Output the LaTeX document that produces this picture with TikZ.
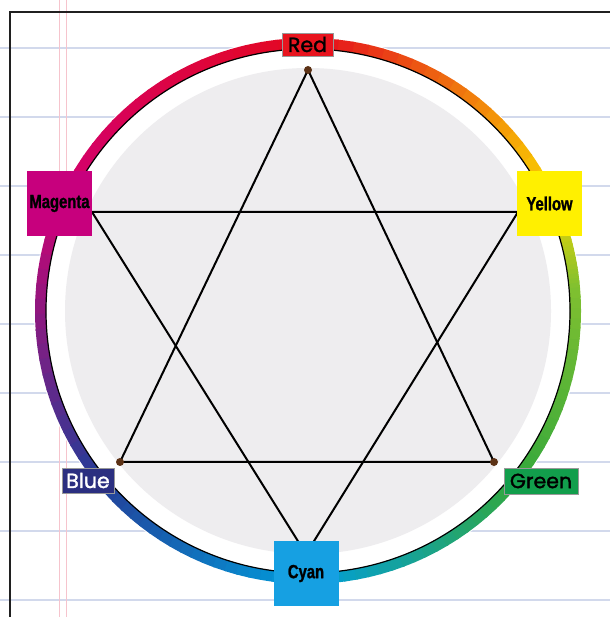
\documentclass[tikz,border=0pt]{standalone}
\usepackage{fontspec}
\setmainfont{Liberation Sans}
\newfontfamily\comicfont[FakeBold=1.6]{Poppins}
\newfontfamily\narrowfont[FakeStretch=0.78, FakeBold=1.2]{Liberation Sans}
\usetikzlibrary{positioning}
\definecolor{paperblue}{RGB}{210,217,236}
\definecolor{paperpink}{RGB}{246,196,205}
\definecolor{framegray}{RGB}{32,32,32}
\definecolor{diskgray}{RGB}{238,237,239}
\definecolor{dotbrown}{RGB}{92,50,22}
\definecolor{boxred}{RGB}{232,20,30}
\definecolor{boxmag}{RGB}{199,0,125}
\definecolor{boxyel}{RGB}{255,240,0}
\definecolor{boxblue}{RGB}{43,47,128}
\definecolor{boxgreen}{RGB}{18,158,76}
\definecolor{boxcyan}{RGB}{22,160,226}
\definecolor{ringred}{RGB}{228,8,30}
\definecolor{ringmag}{RGB}{210,0,112}
\definecolor{ringblue}{RGB}{36,62,152}
\definecolor{ringcyan}{RGB}{0,158,220}
\definecolor{ringgreen}{RGB}{52,168,60}
\definecolor{ringlime}{RGB}{128,192,48}
\definecolor{ringyel}{RGB}{250,215,0}
\tikzset{
  ruled/.style={paperblue, line width=1.4pt},
  marginline/.style={paperpink, line width=0.8pt},
  starline/.style={black, line width=2pt, line join=miter},
  vdot/.style={circle, fill=dotbrown, minimum size=8pt, inner sep=0pt},
  tagbox/.style={fill=#1, draw=gray!80, line width=0.6pt, inner sep=0pt,
    font=\comicfont\fontsize{20.5}{20.5}\selectfont},
  bigbox/.style={fill=#1, minimum size=65pt, inner sep=0pt,
    font=\narrowfont\bfseries\fontsize{19}{19}\selectfont},
}

\begin{document}
\begin{tikzpicture}[x=1pt, y=1pt]
\useasboundingbox (0,0) rectangle (610,617);

% ============================================================ paper
\foreach \ly in {17,86,...,569}
  \draw[ruled] (0,\ly) -- (610,\ly);
\draw[marginline] (59,0) -- (59,617);
\draw[marginline] (66,0) -- (66,617);
\draw[framegray, line width=2.2pt] (10,0) -- (10,605) -- (610,605);

% ============================================================ colour ring
\begin{scope}[shift={(308,306)}]
  \fill[white] (0,0) circle[radius=274pt];
  \foreach \aa/\ab/\ca/\cb in {25/90/ringyel/ringred, 90/155/ringred/ringmag,
      155/219/ringmag/ringblue, 219/270/ringblue/ringcyan,
      270/321/ringcyan/ringgreen, 321/365/ringgreen/ringlime,
      365/385/ringlime/ringyel}{
    \foreach \k in {0,...,19}{
      \pgfmathsetmacro\sa{\aa+(\ab-\aa)*\k/20}
      \pgfmathsetmacro\ea{\aa+(\ab-\aa)*(\k+1)/20+0.4}
      \pgfmathsetmacro\pc{(\k+0.5)*5}
      \colorlet{ringcol}{\cb!\pc!\ca}
      \draw[ringcol, line width=11pt] (\sa:267.5pt) arc[start angle=\sa, end angle=\ea, radius=267.5pt];
    }
  }
  \draw[black, line width=1.2pt] (0,0) circle[radius=262pt];
  \fill[diskgray] (0,0) circle[radius=243pt];
\end{scope}

% ============================================================ star
\coordinate (vR) at (308,547);
\coordinate (vB) at (120,155);
\coordinate (vG) at (494,155);
\coordinate (vM) at (92,405);
\coordinate (vY) at (518,405);
\coordinate (vC) at (306,63);
\draw[starline] (vR) -- (vB) -- (vG) -- cycle;
\draw[starline] (vM) -- (vY) -- (vC) -- cycle;
\node[vdot] (dR) at (vR) {};
\node[vdot] (dB) at (vB) {};
\node[vdot] (dG) at (vG) {};

% ============================================================ labels
\node[tagbox=boxred, minimum width=51pt, minimum height=23pt] (red) at (307.5,572.5) {Red};
\node[tagbox=boxblue, minimum width=52pt, minimum height=25pt, text=white] (blue) at (88,136.5) {Blue};
\node[tagbox=boxgreen, minimum width=74pt, minimum height=26pt] (green) at (541,136) {Green};
\node[bigbox=boxmag] (magenta) at (59.5,413.5) {Magenta};
\node[bigbox=boxyel] (yellow) at (549.5,413.5) {Yellow};
\node[bigbox=boxcyan] (cyan) at (306,43.5) {Cyan};

\end{tikzpicture}
\end{document}
